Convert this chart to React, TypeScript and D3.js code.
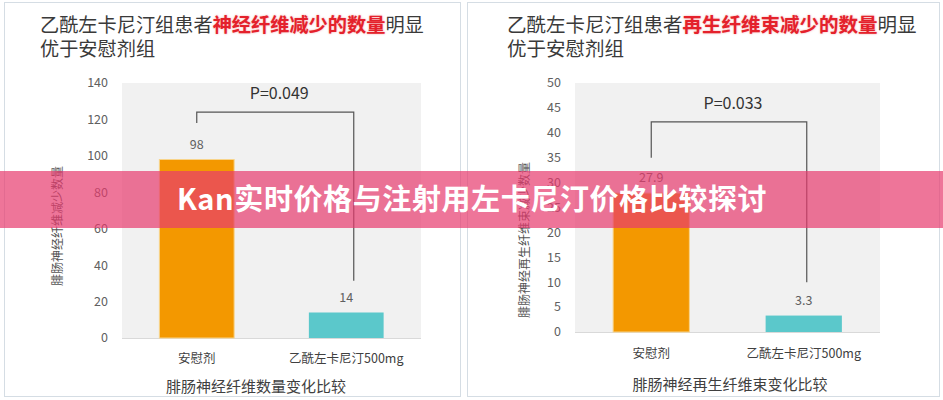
import React from "react";
import * as d3 from "d3";

const categories = ["安慰剂", "乙酰左卡尼汀500mg"];

const leftValues = [98, 14];
const leftTicks = [0, 20, 40, 60, 80, 100, 120, 140];
const leftLabels = ["98", "14"];
const leftTitleA = "乙酰左卡尼汀组患者";
const leftTitleRed = "神经纤维减少的数量";
const leftTitleB = "明显";
const leftTitle2 = "优于安慰剂组";
const leftYTitle = "腓肠神经纤维减少数量";
const leftXTitle = "腓肠神经纤维数量变化比较";
const leftP = "P=0.049";
const leftBracket = [124, 118, 31.5]; // top, left leg end, right leg end (data units)

const rightValues = [27.9, 3.3];
const rightTicks = [0, 5, 10, 15, 20, 25, 30, 35, 40, 45, 50];
const rightLabels = ["27.9", "3.3"];
const rightTitleA = "乙酰左卡尼汀组患者";
const rightTitleRed = "再生纤维束减少的数量";
const rightTitleB = "明显";
const rightTitle2 = "优于安慰剂组";
const rightYTitle = "腓肠神经再生纤维束减少数量";
const rightXTitle = "腓肠神经再生纤维束变化比较";
const rightP = "P=0.033";
const rightBracket = [42.2, 35, 10];

const bannerText = "Kan实时价格与注射用左卡尼汀价格比较探讨";

const barColors = ["#f39800", "#5bc8cb"];
const FONT = "'Noto Sans CJK SC', 'Noto Sans', sans-serif";

type PanelProps = {
  px: number;
  pw: number;
  titleX: number;
  titleSize: number;
  titleA: string;
  titleRed: string;
  titleB: string;
  title2: string;
  plotX0: number;
  plotX1: number;
  plotY0: number;
  plotY1: number;
  yMax: number;
  ticks: number[];
  values: number[];
  labels: string[];
  yTitle: string;
  yTitleX: number;
  yTitleY: number;
  xTitle: string;
  xTitleX: number;
  xTitleY: number;
  catY: number;
  pText: string;
  pY: number;
  bracket: number[];
  rightLegOffset: number;
};

function Panel(p: PanelProps) {
  const y = d3.scaleLinear().domain([0, p.yMax]).range([p.plotY1, p.plotY0]);
  const x = d3
    .scaleBand<string>()
    .domain(categories)
    .range([p.plotX0, p.plotX1])
    .paddingInner(0.5)
    .paddingOuter(0.25);
  const bw = x.bandwidth();
  const c0 = (x(categories[0]) as number) + bw / 2;
  const c1 = (x(categories[1]) as number) + bw / 2 + p.rightLegOffset;
  const bTop = y(p.bracket[0]);
  const bracketPath = d3.path();
  bracketPath.moveTo(c0, y(p.bracket[1]));
  bracketPath.lineTo(c0, bTop);
  bracketPath.lineTo(c1, bTop);
  bracketPath.lineTo(c1, y(p.bracket[2]));
  return (
    <g>
      <rect x={p.px + 0.5} y={2.5} width={p.pw} height={394} fill="#ffffff" stroke="#d5dde4" strokeWidth={1} />
      <text x={p.titleX} y={32} fontSize={p.titleSize} fill="#3a3a3a" fontFamily={FONT}>
        <tspan>{p.titleA}</tspan>
        <tspan fill="#e4212b" fontWeight="bold" style={{ textShadow: "0 0 2px rgba(230,60,60,0.5)" }}>{p.titleRed}</tspan>
        <tspan>{p.titleB}</tspan>
      </text>
      <text x={p.titleX} y={56} fontSize={p.titleSize} fill="#3a3a3a" fontFamily={FONT}>
        {p.title2}
      </text>
      <rect x={p.plotX0} y={p.plotY0} width={p.plotX1 - p.plotX0} height={p.plotY1 - p.plotY0} fill="#f1f1f1" />
      <line x1={p.plotX0} x2={p.plotX1} y1={p.plotY1 + 0.5} y2={p.plotY1 + 0.5} stroke="#d9d9d9" />
      {p.ticks.map((t) => (
        <text key={t} x={p.plotX0 - 14} y={y(t)} dy="0.35em" textAnchor="end" fontSize={12.5} fill="#606060" fontFamily={FONT}>
          {t}
        </text>
      ))}
      {categories.map((c, i) => (
        <g key={c}>
          <rect
            x={x(c)}
            y={y(p.values[i])}
            width={bw}
            height={y(0) - y(p.values[i])}
            fill={barColors[i]}
            stroke={i === 0 ? "#f8d48a" : "none"}
            strokeWidth={1}
          />
          <text x={(x(c) as number) + bw / 2} y={y(p.values[i]) - 11} textAnchor="middle" fontSize={12.5} fill="#606060" fontFamily={FONT}>
            {p.labels[i]}
          </text>
          <text x={(x(c) as number) + bw / 2} y={p.catY} textAnchor="middle" fontSize={12.5} fill="#404040" fontFamily={FONT}>
            {c}
          </text>
        </g>
      ))}
      <path d={bracketPath.toString()} fill="none" stroke="#555555" strokeWidth={1.2} />
      <text x={(c0 + c1) / 2 + 4} y={p.pY} textAnchor="middle" fontSize={16} fill="#333333" fontFamily={FONT}>
        {p.pText}
      </text>
      <text
        transform={`translate(${p.yTitleX},${p.yTitleY}) rotate(-90)`}
        textAnchor="middle"
        dy="0.35em"
        fontSize={12}
        fill="#555555"
        fontFamily={FONT}
      >
        {p.yTitle}
      </text>
      <text x={p.xTitleX} y={p.xTitleY} textAnchor="middle" fontSize={15} fill="#404040" fontFamily={FONT}>
        {p.xTitle}
      </text>
    </g>
  );
}

export default function App() {
  return (
    <div style={{ position: "absolute", left: 0, top: 0 }}>
      <svg width={943} height={400} style={{ display: "block", background: "#ffffff" }}>
        <Panel
          px={4}
          pw={456}
          titleX={40}
          titleSize={19.2}
          titleA={leftTitleA}
          titleRed={leftTitleRed}
          titleB={leftTitleB}
          title2={leftTitle2}
          plotX0={122}
          plotX1={421}
          plotY0={83}
          plotY1={338}
          yMax={140}
          ticks={leftTicks}
          values={leftValues}
          labels={leftLabels}
          yTitle={leftYTitle}
          yTitleX={58}
          yTitleY={226}
          xTitle={leftXTitle}
          xTitleX={256}
          xTitleY={392}
          catY={363}
          pText={leftP}
          pY={99}
          bracket={leftBracket}
          rightLegOffset={7.5}
        />
        <Panel
          px={467}
          pw={472}
          titleX={507}
          titleSize={19.5}
          titleA={rightTitleA}
          titleRed={rightTitleRed}
          titleB={rightTitleB}
          title2={rightTitle2}
          plotX0={575}
          plotX1={880}
          plotY0={83}
          plotY1={332}
          yMax={50}
          ticks={rightTicks}
          values={rightValues}
          labels={rightLabels}
          yTitle={rightYTitle}
          yTitleX={525}
          yTitleY={240}
          xTitle={rightXTitle}
          xTitleX={730}
          xTitleY={390}
          catY={358}
          pText={rightP}
          pY={109}
          bracket={rightBracket}
          rightLegOffset={3}
        />
        <rect x={0} y={171} width={943} height={57} fill="#e73a6d" fillOpacity={0.7} />
        <text
          x={472}
          y={200}
          dy="0.36em"
          textAnchor="middle"
          fontSize={29}
          letterSpacing={0.6}
          fontWeight="bold"
          fill="#ffffff"
          fontFamily={FONT}
        >
          {bannerText}
        </text>
      </svg>
    </div>
  );
}
